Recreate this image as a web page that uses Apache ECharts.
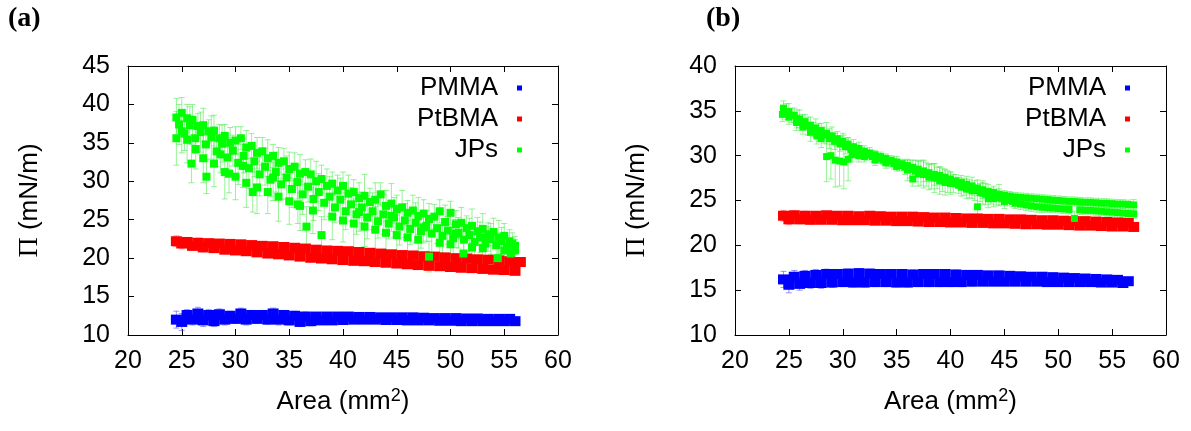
<!DOCTYPE html>
<html><head><meta charset="utf-8">
<script src="https://cdn.jsdelivr.net/npm/echarts@6/dist/echarts.min.js"></script>
<style>html,body{margin:0;padding:0;background:#fff}#c{width:1191px;height:431px}</style>
</head><body><div id="c"></div><script>
// ---------- tick labels ----------
const X_TICKS = [20,25,30,35,40,45,50,55,60];
const Y_TICKS_A = [10,15,20,25,30,35,40,45];
const Y_TICKS_B = [10,15,20,25,30,35,40];
const LEGEND = ['PMMA','PtBMA','JPs'];

// ---------- sampled areas (mm^2) of the two branches ----------
const AREA_C = [24.5,25.5,26.5,27.5,28.5,29.5,30.5,31.5,32.5,33.5,34.5,35.5,36.5,37.5,38.5,39.5,40.5,41.5,42.5,43.5,44.5,45.5,46.5,47.5,48.5,49.5,50.5,51.5,52.5,53.5,54.5,55.5,56.5];
const AREA_E = [25,26,27,28,29,30,31,32,33,34,35,36,37,38,39,40,41,42,43,44,45,46,47,48,49,50,51,52,53,54,55,56,57];

// ---------- panel (a) ----------
const PMMA_A_C = [12.0,12.6,12.8,12.6,12.7,12.5,12.8,12.6,12.6,12.8,12.6,12.5,12.4,12.4,12.4,12.4,12.4,12.35,12.35,12.3,12.3,12.3,12.3,12.25,12.2,12.2,12.2,12.15,12.15,12.1,12.1,12.1,null];
const PMMA_A_E = [11.7,12.0,11.9,11.8,12.0,12.1,12.0,12.1,12.0,12.0,11.9,11.7,11.8,11.9,11.9,11.95,12.0,12.0,12.0,11.95,11.95,11.9,11.9,11.9,11.85,11.85,11.8,11.8,11.8,11.8,11.8,11.8,null];
const PMMA_A_ERR = [1.1,0.7,0.8,0.7,0.7,0.6,0.7,0.6,0.6,0.7,0.6,0.6,0.6,0.5,0.5,0.5,0.5,0.5,0.5,0.5,0.45,0.45,0.45,0.45,0.45,0.45,0.45,0.4,0.4,0.4,0.4,0.4,0.4];

const PTBMA_A_C = [22.2,22.1,22.0,21.95,21.9,21.85,21.8,21.7,21.6,21.55,21.45,21.35,21.25,21.1,21.0,20.95,20.9,20.8,20.7,20.6,20.5,20.4,20.35,20.25,20.2,20.1,20.0,19.95,19.85,19.8,19.7,19.6,19.5];
const PTBMA_A_E = [21.9,21.6,21.4,21.3,21.1,21.0,20.9,20.75,20.6,20.5,20.35,20.2,20.05,19.95,19.85,19.75,19.65,19.6,19.5,19.4,19.3,19.2,19.1,19.0,18.95,18.85,18.75,18.7,18.6,18.5,18.45,18.35,null];
const PTBMA_A_ERR = [0.7,0.6,0.6,0.5,0.5,0.5,0.5,0.5,0.5,0.5,0.5,0.5,0.5,0.5,0.5,0.5,0.5,0.5,0.5,0.5,0.5,0.5,0.5,0.5,0.5,0.5,0.5,0.5,0.5,0.5,0.5,0.5,0.5];

// [area, Pi, error]
const JPS_A_UP = [[24.5,38.3,2.5],[25,38.9,2.0],[25.5,38.2,1.8],[26,38.0,2.0],[26.5,37.2,1.6],[27,37.3,2.2],[27.5,36.5,1.5],[28,36.6,2.0],[28.5,35.6,1.8],[29,35.9,1.5],[29.5,35.0,2.0],[30,35.3,1.8],[30.5,35.6,1.5],[31,34.4,2.2],[31.5,34.6,1.6],[32,33.7,2.0],[32.5,33.9,1.8],[33,33.0,2.4],[33.5,33.3,1.5],[34,32.4,2.0],[34.5,32.6,1.7],[35,31.6,2.2],[35.5,31.9,1.8],[36,31.0,2.5],[36.5,31.2,1.6],[37,30.9,2.0],[37.5,30.0,2.6],[38,30.3,1.8],[38.5,29.4,2.2],[39,29.7,1.5],[39.5,28.8,2.0],[40,29.4,1.8],[40.5,28.4,2.4],[41,28.6,1.6],[41.5,27.8,2.0],[42,28.1,2.8],[42.5,27.3,1.8],[43,27.6,2.2],[43.5,28.3,1.5],[44,26.8,2.0],[44.5,27.1,2.6],[45,26.4,1.8],[45.5,26.6,2.2],[46,25.9,1.6],[46.5,26.2,2.0],[47,25.5,2.4],[47.5,25.8,1.8],[48,25.1,2.0],[48.5,25.4,1.6],[49,26.1,1.5],[49.5,24.7,2.2],[50,25.9,1.5],[50.5,24.4,1.8],[51,24.6,2.0],[51.5,23.9,1.6],[52,24.2,2.2],[52.5,23.5,1.8],[53,23.8,2.0],[53.5,23.1,1.5],[54,23.4,1.8],[54.5,22.7,2.2],[55,22.9,1.6],[55.5,22.2,1.5],[56,21.6,1.2]];
const JPS_A_MID = [[24.75,37.4,2.6],[25.25,36.2,2.2],[25.75,37.3,2.4],[26.25,35.6,2.0],[26.75,36.4,2.6],[27.25,34.8,2.2],[27.75,35.7,2.8],[28.25,33.9,2.0],[28.75,34.9,2.4],[29.25,33.1,2.6],[29.75,34.0,2.0],[30.25,32.4,2.8],[30.75,33.3,2.2],[31.25,31.7,2.6],[31.75,32.6,2.0],[32.25,30.9,2.8],[32.75,31.9,2.4],[33.25,30.2,2.2],[33.75,31.2,2.6],[34.25,29.6,2.0],[34.75,30.5,2.8],[35.25,29.0,2.4],[35.75,29.9,2.2],[36.25,28.3,2.6],[36.75,29.3,2.0],[37.25,27.7,2.8],[37.75,28.6,2.4],[38.25,27.2,2.2],[38.75,28.0,2.6],[39.25,26.6,2.0],[39.75,27.6,2.8],[40.25,26.1,2.4],[40.75,27.0,2.2],[41.25,25.7,2.6],[41.75,26.6,2.0],[42.25,25.3,2.8],[42.75,26.1,2.4],[43.25,24.8,2.2],[43.75,25.7,2.6],[44.25,24.5,2.0],[44.75,25.3,2.6],[45.25,24.1,2.4],[45.75,24.9,2.2],[46.25,23.8,2.0],[46.75,24.6,2.6],[47.25,23.5,2.2],[47.75,24.2,2.0],[48.25,23.2,2.4],[48.75,23.9,2.0],[49.25,22.9,2.2],[49.75,23.6,1.8],[50.25,22.6,2.4],[50.75,23.3,2.0],[51.25,22.4,1.8],[51.75,23.0,2.2],[52.25,22.1,1.8],[52.75,22.7,2.0],[53.25,21.9,1.6],[53.75,22.5,2.0],[54.25,21.7,1.6],[54.75,22.2,1.8],[55.25,21.4,1.5],[55.75,21.9,1.4]];
const JPS_A_LOW = [[24.5,35.6,3.5],[25,36.5,2.8],[25.5,35.4,3.0],[25.9,32.3,2.5],[26.3,34.2,2.6],[27,33.0,3.2],[27.3,30.6,2.2],[28,32.3,3.0],[28.6,33.5,2.4],[29,31.2,3.5],[29.4,31.0,2.5],[30,30.6,3.0],[30.7,32.0,2.8],[31,29.8,3.2],[31.6,28.6,2.6],[32,29.2,3.4],[33,28.6,2.8],[33.5,30.5,3.0],[34,28.0,3.2],[35,27.4,3.0],[35.8,27.0,2.5],[36,26.8,3.2],[36.6,24.1,2.6],[37.2,26.2,3.0],[38,23.0,2.4],[39,25.4,3.0],[40,24.9,2.8],[41,24.5,3.2],[41.5,26.0,2.5],[42,24.1,2.6],[43,23.7,3.0],[44,23.3,2.4],[44.5,25.5,2.0],[45,23.0,2.6],[46,22.7,2.2],[47,22.4,2.5],[47.5,24.0,2.0],[48,20.2,2.0],[49,22.0,2.2],[50,21.8,2.0],[50.5,23.2,1.8],[51.2,20.6,1.6],[52,21.4,2.0],[53,21.3,1.8],[53.5,22.5,1.6],[54.4,20.0,1.5],[55,21.0,1.6],[55.6,20.6,1.5],[56,21.0,1.4]];

// ---------- panel (b) ----------
const PMMA_B_C = [16.2,16.5,16.6,16.7,16.8,16.8,16.85,16.9,16.85,16.8,16.8,16.8,16.75,16.8,16.8,16.8,16.75,16.7,16.7,16.65,16.65,16.6,16.55,16.5,16.5,16.45,16.4,16.35,16.3,16.25,16.2,16.15,16.0];
const PMMA_B_E = [15.6,15.7,15.8,15.8,15.85,15.9,15.85,15.85,15.9,15.9,15.85,15.85,15.9,15.9,15.9,15.9,15.9,15.95,15.95,15.95,15.95,15.95,15.95,15.95,15.9,15.9,15.9,15.9,15.9,15.85,15.85,15.8,null];
const PMMA_B_ERR = [0.9,0.7,0.6,0.6,0.55,0.5,0.5,0.5,0.5,0.5,0.5,0.5,0.5,0.5,0.5,0.5,0.5,0.5,0.45,0.45,0.45,0.45,0.45,0.45,0.45,0.45,0.45,0.45,0.45,0.4,0.4,0.4,0.4];

const PTBMA_B_C = [23.3,23.35,23.3,23.3,23.35,23.3,23.3,23.25,23.3,23.25,23.2,23.2,23.2,23.15,23.1,23.1,23.05,23.0,23.0,22.95,22.95,22.9,22.9,22.85,22.8,22.8,22.75,22.7,22.7,22.65,22.6,22.55,22.5];
const PTBMA_B_E = [22.9,22.9,22.85,22.85,22.85,22.8,22.8,22.8,22.75,22.75,22.7,22.7,22.65,22.6,22.6,22.55,22.55,22.5,22.5,22.45,22.45,22.4,22.35,22.35,22.3,22.3,22.25,22.2,22.2,22.15,22.1,22.1,22.05];
const PTBMA_B_ERR = [0.6,0.5,0.5,0.45,0.45,0.4,0.4,0.4,0.4,0.4,0.4,0.4,0.4,0.4,0.4,0.4,0.4,0.4,0.4,0.4,0.4,0.4,0.4,0.4,0.4,0.4,0.4,0.4,0.4,0.4,0.4,0.4,0.4];

const JPS_B_UP = [[24.5,35.3,0.8],[25,34.9,0.9],[25.5,34.5,0.8],[26,34.1,1.0],[26.5,33.8,0.8],[27,33.4,0.9],[27.5,33.1,1.0],[28,32.8,0.8],[28.5,32.5,1.2],[29,32.2,1.0],[29.5,31.9,0.8],[30,31.6,0.9],[30.5,31.3,0.7],[31,31.0,0.8],[31.5,30.8,0.7],[32,30.5,0.6],[32.5,30.3,0.6],[33,30.1,0.5],[33.5,29.9,0.5],[34,29.7,0.5],[34.5,29.5,0.5],[35,29.3,0.6],[35.5,29.1,0.5],[36,28.9,0.6],[36.5,28.7,0.8],[37,28.5,0.9],[37.5,28.3,1.2],[38,28.1,1.0],[38.5,27.9,1.2],[39,27.8,1.0],[39.5,27.6,0.9],[40,27.4,0.8],[40.5,27.2,0.7],[41,27.0,0.8],[41.5,26.8,0.9],[42,26.6,1.0],[42.5,26.4,0.9],[43,26.2,1.0],[43.5,26.0,0.8],[44,25.9,0.7],[44.5,25.7,0.6],[45,25.6,0.5],[45.5,25.5,0.5],[46,25.4,0.5],[46.5,25.35,0.5],[47,25.3,0.5],[47.5,25.25,0.5],[48,25.2,0.5],[48.5,25.15,0.5],[49,25.1,0.5],[49.5,25.05,0.5],[50,25.0,0.5],[50.5,24.95,0.5],[51,24.9,0.5],[51.5,24.9,0.5],[52,24.85,0.5],[52.5,24.8,0.5],[53,24.8,0.5],[53.5,24.75,0.5],[54,24.7,0.5],[54.5,24.7,0.5],[55,24.65,0.5],[55.5,24.6,0.5],[56,24.6,0.5],[56.5,24.55,0.5],[57,24.5,0.6]];
const JPS_B_MID = [[24.75,34.9,0.9],[25.25,34.5,0.8],[25.75,34.1,1.0],[26.25,33.7,0.9],[26.75,33.3,1.0],[27.25,32.9,0.8],[27.75,32.6,1.0],[28.25,32.3,0.9],[28.75,31.9,1.1],[29.25,31.6,0.9],[29.75,31.3,0.8],[30.25,31.0,0.8],[30.75,30.7,0.7],[31.25,30.5,0.7],[31.75,30.3,0.6],[32.25,30.1,0.6],[32.75,29.9,0.6],[33.25,29.7,0.5],[33.75,29.5,0.5],[34.25,29.3,0.5],[34.75,29.1,0.6],[35.25,28.9,0.6],[35.75,28.7,0.8],[36.25,28.5,1.0],[36.75,28.3,1.2],[37.25,28.1,1.4],[37.75,27.9,1.3],[38.25,27.7,1.4],[38.75,27.5,1.2],[39.25,27.3,1.3],[39.75,27.1,1.2],[40.25,26.9,1.0],[40.75,26.7,0.9],[41.25,26.5,0.9],[41.75,26.3,1.0],[42.25,26.1,1.1],[42.75,25.9,1.0],[43.25,25.7,1.2],[43.75,25.5,0.9],[44.25,25.3,0.8],[44.75,25.2,0.7],[45.25,25.0,0.6],[45.75,24.9,0.6]];
const JPS_B_LOW = [[24.4,34.6,0.8],[25,34.3,0.8],[25.7,33.7,0.9],[26.3,33.2,0.8],[27,32.6,1.0],[27.6,32.2,0.9],[28,31.9,1.0],[28.5,29.9,2.8],[28.9,30.0,2.6],[29.3,29.5,3.0],[29.7,29.4,2.8],[30.1,29.3,3.0],[30.5,29.6,2.4],[30.9,30.1,0.8],[31.5,30.0,0.7],[32,29.9,0.6],[33,29.5,0.6],[34,29.2,0.6],[35,28.8,0.5],[36,28.4,1.2],[36.5,27.4,0.8],[37,28.0,1.4],[37.5,27.9,1.5],[38,27.6,1.4],[38.5,27.5,1.6],[39,27.2,1.5],[39.5,27.0,1.4],[40,26.9,1.2],[41,26.5,1.0],[41.5,26.3,1.1],[42,26.1,0.9],[42.5,24.3,1.5],[43,25.8,1.2],[43.5,25.2,1.0],[44,25.2,0.9],[44.5,25.6,1.2],[45,24.9,0.8],[46,24.7,0.6],[46.5,24.6,0.6],[47,24.5,0.6],[47.5,24.4,0.6],[48,24.3,0.6],[48.5,24.25,0.6],[49,24.2,0.5],[49.5,24.15,0.5],[50,24.1,0.5],[50.5,24.05,0.5],[51,24.0,0.5],[51.5,23.0,0.8],[52,23.95,0.5],[52.5,23.9,0.5],[53,23.9,0.5],[53.5,23.85,0.5],[54,23.8,0.5],[54.5,23.75,0.5],[55,23.7,0.5],[55.5,23.65,0.5],[56,23.6,0.5],[56.5,23.55,0.5],[57,23.5,0.5]];

// ---------- helpers ----------
function branch(areas, ys, errs){
  const out = [];
  areas.forEach((a,i)=>{ if (ys[i] != null) out.push([a, ys[i], errs[i]]); });
  return out;
}
const COL = {PMMA:'#0000ff', PtBMA:'#ff0000', JPs:'#00ff00'};
const ERRCOL = {PMMA:'rgba(80,80,255,0.6)', PtBMA:'rgba(255,80,80,0.6)', JPs:'rgba(80,235,80,0.6)'};

function errSeries(name, data, ai){
  const color = ERRCOL[name];
  return {
    type:'custom', name: name + ' err', xAxisIndex: ai, yAxisIndex: ai, data: data,
    encode:{x:0, y:1}, silent:true, animation:false,
    renderItem: function(params, api){
      const x = api.value(0), y = api.value(1), e = api.value(2);
      const hi = api.coord([x, y + e]), lo = api.coord([x, y - e]);
      const w = 3, st = {stroke: color, lineWidth: 1, fill: null};
      return {type:'group', children:[
        {type:'line', shape:{x1:hi[0], y1:hi[1], x2:lo[0], y2:lo[1]}, style: st},
        {type:'line', shape:{x1:hi[0]-w, y1:hi[1], x2:hi[0]+w, y2:hi[1]}, style: st},
        {type:'line', shape:{x1:lo[0]-w, y1:lo[1], x2:lo[0]+w, y2:lo[1]}, style: st}
      ]};
    }
  };
}
function ptSeries(name, data, ai, size){
  return {type:'scatter', name: name, xAxisIndex: ai, yAxisIndex: ai, data: data,
    symbol:'rect', symbolSize: size, silent:true, animation:false,
    itemStyle:{color: COL[name], opacity: 1, borderWidth: 0}};
}
function xAxisDef(gi, pos, withLabels){
  const ax = {type:'value', gridIndex: gi, position: pos,
    min: X_TICKS[0], max: X_TICKS[X_TICKS.length-1], interval: X_TICKS[1]-X_TICKS[0],
    axisLine:{show:true, onZero:false, lineStyle:{color:'#000', width:1}},
    axisTick:{show:true, inside:true, length:6, lineStyle:{color:'#000', width:1}},
    splitLine:{show:false},
    axisLabel:{show: withLabels, color:'#000', fontSize:25, fontFamily:'Liberation Sans', margin:14}};
  if (withLabels){
    ax.name = '{t|Area (mm}{s|2}{t|)}';
    ax.nameLocation = 'middle';
    ax.nameGap = 52;
    ax.nameTextStyle = {rich:{
      t:{fontSize:26, fontFamily:'Liberation Sans', color:'#000', lineHeight:30},
      s:{fontSize:18, fontFamily:'Liberation Sans', color:'#000', lineHeight:30, verticalAlign:'top'}}};
  }
  return ax;
}
function yAxisDef(gi, pos, ticks, withLabels, gap){
  const ax = {type:'value', gridIndex: gi, position: pos,
    min: ticks[0], max: ticks[ticks.length-1], interval: ticks[1]-ticks[0],
    axisLine:{show:true, onZero:false, lineStyle:{color:'#000', width:1}},
    axisTick:{show:true, inside:true, length:6, lineStyle:{color:'#000', width:1}},
    splitLine:{show:false},
    axisLabel:{show: withLabels, color:'#000', fontSize:25, fontFamily:'Liberation Sans', margin:18}};
  if (withLabels){
    ax.name = '{pi|\u03A0}{t| (mN/m)}';
    ax.nameLocation = 'middle';
    ax.nameRotate = 90;
    ax.nameGap = gap;
    ax.nameTextStyle = {rich:{
      pi:{fontSize:28, fontFamily:'Liberation Serif', color:'#000'},
      t:{fontSize:26, fontFamily:'Liberation Sans', color:'#000'}}};
  }
  return ax;
}
function legendDef(right){
  return {data: LEGEND, orient:'vertical', right: right, top: 70, align:'right',
    icon:'rect', itemWidth:5, itemHeight:5, itemGap:5, selectedMode:false,
    textStyle:{fontSize:26, fontFamily:'Liberation Sans', color:'#000', padding:[0,14,0,0]}};
}

// ---------- build series ----------
const series = [];
function panel(ai, pm, pt, jp, jpSize){
  series.push(errSeries('PMMA', pm, ai), ptSeries('PMMA', pm, ai, [11,10]));
  series.push(errSeries('PtBMA', pt, ai), ptSeries('PtBMA', pt, ai, [11,10]));
  series.push(errSeries('JPs', jp, ai), ptSeries('JPs', jp, ai, jpSize));
}
panel(0,
  branch(AREA_C, PMMA_A_C, PMMA_A_ERR).concat(branch(AREA_E, PMMA_A_E, PMMA_A_ERR)),
  branch(AREA_C, PTBMA_A_C, PTBMA_A_ERR).concat(branch(AREA_E, PTBMA_A_E, PTBMA_A_ERR)),
  JPS_A_UP.concat(JPS_A_MID, JPS_A_LOW), 8);
panel(2,
  branch(AREA_C, PMMA_B_C, PMMA_B_ERR).concat(branch(AREA_E, PMMA_B_E, PMMA_B_ERR)),
  branch(AREA_C, PTBMA_B_C, PTBMA_B_ERR).concat(branch(AREA_E, PTBMA_B_E, PTBMA_B_ERR)),
  JPS_B_UP.concat(JPS_B_MID, JPS_B_LOW), 7);

const option = {
  animation:false,
  backgroundColor:'#fff',
  title:[
    {text:'(a)', left:3, top:0, textStyle:{fontFamily:'Liberation Serif', fontWeight:'bold', fontSize:28, color:'#000'}},
    {text:'(b)', left:701, top:0, textStyle:{fontFamily:'Liberation Serif', fontWeight:'bold', fontSize:28, color:'#000'}}
  ],
  grid:[
    {left:128, top:66, width:430, height:269},
    {left:735, top:66, width:431, height:269}
  ],
  xAxis:[xAxisDef(0,'bottom',true), xAxisDef(0,'top',false), xAxisDef(1,'bottom',true), xAxisDef(1,'top',false)],
  yAxis:[yAxisDef(0,'left',Y_TICKS_A,true,84), yAxisDef(0,'right',Y_TICKS_A,false,0),
         yAxisDef(1,'left',Y_TICKS_B,true,84), yAxisDef(1,'right',Y_TICKS_B,false,0)],
  legend:[legendDef(664), legendDef(56)],
  series: series
};
const chart = echarts.init(document.getElementById('c'), null, {renderer:'canvas'});
chart.setOption(option);
</script></body></html>
